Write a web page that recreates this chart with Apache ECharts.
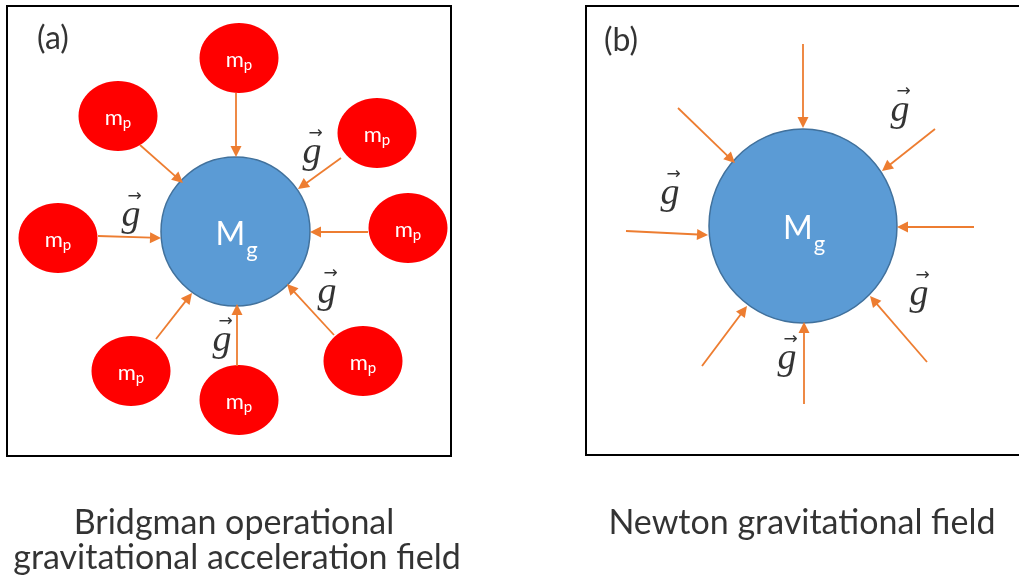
<!DOCTYPE html>
<html><head><meta charset="utf-8">
<script src="https://cdn.jsdelivr.net/npm/echarts@6/dist/echarts.min.js"></script>
<style>html,body{margin:0;padding:0;background:#fff}#c{width:1019px;height:585px}</style>
</head><body><div id="c"></div>
<script>
// ---- data (diagram coordinates, 0..1019 x 0..585, y downward) ----
const panelBoxes = [[7, 6, 451, 456], [586, 6, 1030, 455]];
const panelLabels = ['(a)', '(b)'];
const panelLabelPos = [[53, 39], [621, 41]];
const bigMassPos = [[235.5, 231.5], [803, 226]];
const smallMassPos = [[239, 58], [118, 116], [377, 133], [58, 238], [408, 228], [131, 371], [239, 400], [363, 361]];
const arrowsA = [[236, 93, 236, 157], [140, 145, 183, 183], [341, 158, 298, 189], [98, 236, 161, 238],
                 [368, 232, 310, 232], [156, 339, 192, 293], [237, 366, 237, 304], [334, 335, 287, 284]];
const arrowsB = [[803, 44, 803, 128], [678, 108, 735, 163], [935, 129, 882, 171], [626, 231, 708, 235],
                 [974, 227, 897, 227], [702, 366, 747, 306], [804, 404, 804, 322], [927, 362, 870, 296]];
const gLabelPos = [[312, 150], [131, 213], [327, 290], [222, 338], [900, 108], [670, 191], [919, 292], [787, 356]];
const captionText = ['Bridgman operational', 'gravitational acceleration field', 'Newton gravitational field'];
const captionPos = [[234, 523], [237, 558], [802, 523]];

// ---- styles ----
const bigMassSize = [[74.5, 74.5], [94, 97]];
const ORANGE = '#ED7D31';
const SANS = 'Lato';

const chart = echarts.init(document.getElementById('c'), null, {renderer: 'canvas'});

function textScatter(name, pts, labelOpt) {
  return {
    type: 'scatter', name, data: pts, symbolSize: 1, silent: true,
    itemStyle: {color: 'transparent'},
    label: Object.assign({show: true, position: 'inside'}, labelOpt),
    emphasis: {disabled: true}, z: 10
  };
}

const option = {
  animation: false,
  grid: {left: 0, right: 0, top: 0, bottom: 0},
  xAxis: {type: 'value', min: 0, max: 1019, show: false},
  yAxis: {type: 'value', min: 0, max: 585, inverse: true, show: false},
  series: [
    {
      type: 'custom', name: 'boxes', data: panelBoxes, clip: false, silent: true,
      renderItem: (p, api) => {
        const a = api.coord([api.value(0), api.value(1)]);
        const b = api.coord([api.value(2), api.value(3)]);
        return {type: 'rect', shape: {x: a[0], y: a[1], width: b[0] - a[0], height: b[1] - a[1]},
                style: {fill: 'none', stroke: '#000', lineWidth: 2}};
      }
    },
    {
      type: 'custom', name: 'arrows', data: arrowsA.concat(arrowsB), clip: false, silent: true, z: 3,
      renderItem: (p, api) => {
        const a = api.coord([api.value(0), api.value(1)]);
        const b = api.coord([api.value(2), api.value(3)]);
        const dx = b[0] - a[0], dy = b[1] - a[1], L = Math.hypot(dx, dy);
        const ux = dx / L, uy = dy / L, hl = 11, hw = 5.5;
        const base = [b[0] - ux * hl, b[1] - uy * hl];
        return {type: 'group', children: [
          {type: 'line', shape: {x1: a[0], y1: a[1], x2: base[0] + ux, y2: base[1] + uy},
           style: {stroke: ORANGE, lineWidth: 1.8}},
          {type: 'polygon', shape: {points: [b, [base[0] - uy * hw, base[1] + ux * hw], [base[0] + uy * hw, base[1] - ux * hw]]},
           style: {fill: ORANGE}}
        ]};
      }
    },
    {
      type: 'custom', name: 'big masses', data: bigMassPos, clip: false, silent: true, z: 2,
      renderItem: (p, api) => {
        const c = api.coord([api.value(0), api.value(1)]);
        const s = bigMassSize[p.dataIndex];
        return {type: 'ellipse', shape: {cx: c[0], cy: c[1], rx: s[0], ry: s[1]},
                style: {fill: '#5B9BD5', stroke: '#41719C', lineWidth: 1.5},
                textContent: {style: {text: '{M|M}{g|g}', rich: {
                  M: {fontFamily: SANS, fontSize: 32, fill: '#fff', lineHeight: 52},
                  g: {fontFamily: SANS, fontSize: 22, fill: '#fff', lineHeight: 12, verticalAlign: 'bottom', padding: [0, 0, 0, 1]}
                }}},
                textConfig: {position: 'inside', offset: [1, 3]}};
      }
    },
    {
      type: 'custom', name: 'small masses', data: smallMassPos, clip: false, silent: true, z: 2,
      renderItem: (p, api) => {
        const c = api.coord([api.value(0), api.value(1)]);
        return {type: 'ellipse', shape: {cx: c[0], cy: c[1], rx: 39.5, ry: 35},
                style: {fill: '#FF0000'},
                textContent: {style: {text: '{m|m}{p|p}', rich: {
                  m: {fontFamily: SANS, fontSize: 22, fill: '#fff', lineHeight: 26},
                  p: {fontFamily: SANS, fontSize: 15, fill: '#fff', lineHeight: 12, verticalAlign: 'bottom'}
                }}},
                textConfig: {position: 'inside', offset: [0, 2]}};
      }
    },
    textScatter('g', gLabelPos, {
      formatter: '{a|→}\n{g|g}',
      rich: {
        a: {fontFamily: 'DejaVu Sans', fontSize: 17, color: '#000', lineHeight: 6, padding: [0, 0, 0, 7]},
        g: {fontFamily: 'Liberation Serif', fontStyle: 'italic', fontSize: 38, color: '#000', lineHeight: 32}
      }
    }),
    textScatter('panel labels', panelLabelPos.map((p, i) => ({value: p, name: panelLabels[i]})), {
      formatter: '{b}', fontFamily: SANS, fontSize: 32, color: '#000'
    }),
    textScatter('captions', captionPos.map((p, i) => ({value: p, name: captionText[i]})), {
      formatter: '{b}', fontFamily: SANS, fontSize: 34, color: '#000'
    })
  ]
};
chart.setOption(option);
</script>
</body></html>
